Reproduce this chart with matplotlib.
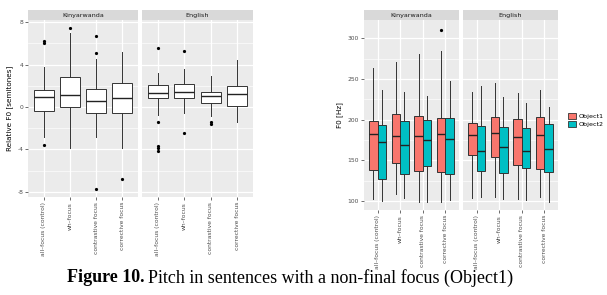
import matplotlib
matplotlib.use('Agg')
import matplotlib.pyplot as plt
from matplotlib.patches import Patch

# categories and facets
cats = ['all\u2013focus (control)', 'wh\u2013focus', 'contrastive focus', 'corrective focus']
langs = ['Kinyarwanda', 'English']

# left chart: relative F0 (semitones), one box per category
# (q1, median, q3, whisker low, whisker high)
rel_kin = [(-0.4, 0.9, 1.6, -2.8, 3.8),
           (0.0, 1.1, 2.8, -3.9, 7.0),
           (-0.55, 0.55, 1.7, -2.8, 4.5),
           (-0.55, 0.8, 2.3, -3.9, 5.2)]
rel_kin_out = [[6.2, 6.0, -3.6], [7.4], [5.1, 6.7, -7.7], [-6.8]]
rel_eng = [(0.85, 1.3, 2.1, -0.75, 3.2),
           (0.8, 1.4, 2.2, -0.6, 3.6),
           (0.35, 1.05, 1.45, -0.9, 2.9),
           (0.05, 1.2, 2.0, -1.4, 4.4)]
rel_eng_out = [[5.6, -1.4, -3.7, -3.9, -4.2], [5.3, -2.5], [-1.4, -1.6], []]

# right chart: F0 (Hz), Object1 and Object2 per category
f0_kin_obj1 = [(138, 182, 198, 103, 264),
               (147, 180, 207, 109, 271),
               (137, 179.5, 204.5, 99, 281),
               (135.5, 183, 202.5, 99, 285)]
f0_kin_obj1_out = [[], [], [], [310.5]]
f0_kin_obj2 = [(127.5, 172.5, 194, 100, 237),
               (133.5, 168.5, 198, 103.5, 233.5),
               (142.5, 175.5, 199, 99, 228.5),
               (133.5, 176.5, 202.5, 101.5, 248)]
f0_eng_obj1 = [(156, 181, 196.5, 103.5, 234),
               (154, 184, 203, 105.5, 245.5),
               (144.5, 178.5, 200.5, 103, 233),
               (140, 181.5, 203, 105, 237)]
f0_eng_obj2 = [(137, 162, 192, 105, 241),
               (135, 167, 190.5, 103, 228),
               (140.5, 161, 190, 101.5, 221),
               (135.5, 163.5, 195, 99, 215)]

series_names = ['Object1', 'Object2']
series_colors = ['#F8766D', '#00BFC4']

W, H = 607, 295
fig = plt.figure(figsize=(W / 100, H / 100), dpi=100)
fig.patch.set_facecolor('white')


def px_axes(x0, y0, x1, y1):
    # rectangle given in pixels from the top-left corner
    return fig.add_axes([x0 / W, 1 - y1 / H, (x1 - x0) / W, (y1 - y0) / H])


def stats(rows, outs=None):
    res = []
    for i, (q1, med, q3, lo, hi) in enumerate(rows):
        res.append(dict(q1=q1, med=med, q3=q3, whislo=lo, whishi=hi,
                        fliers=(outs[i] if outs else [])))
    return res


def style_panel(ax, ylim, major, minor, show_y, fs=4.3):
    ax.set_facecolor('#EBEBEB')
    ax.set_ylim(*ylim)
    ax.set_xlim(0.4, 4.6)
    ax.set_yticks(major)
    ax.set_yticks(minor, minor=True)
    ax.set_xticks(range(1, 5))
    ax.set_xticklabels(cats, rotation=90, fontsize=fs, color='#4D4D4D')
    ax.grid(True, which='major', color='white', lw=0.9)
    ax.grid(True, which='minor', axis='y', color='white', lw=0.45)
    ax.set_axisbelow(True)
    for s in ax.spines.values():
        s.set_visible(False)
    ax.tick_params(which='major', length=2, width=0.5, color='#333333',
                   labelsize=fs, labelcolor='#4D4D4D', pad=1.5)
    ax.tick_params(which='minor', length=0)
    if not show_y:
        ax.tick_params(axis='y', length=0, labelleft=False)


def strip(x0, x1, y0, y1, label):
    sa = px_axes(x0, y0, x1, y1)
    sa.set_facecolor('#D9D9D9')
    sa.set_xticks([])
    sa.set_yticks([])
    for s in sa.spines.values():
        s.set_visible(False)
    sa.text(0.5, 0.5, label, ha='center', va='center', fontsize=4.6, color='#1A1A1A')


flier = dict(marker='o', markersize=1.3, markerfacecolor='black', markeredgecolor='black')

# ---- left chart
left_panels = [(28, 138), (142, 253)]
for k, (x0, x1) in enumerate(left_panels):
    ax = px_axes(x0, 20, x1, 197)
    rows = [rel_kin, rel_eng][k]
    outs = [rel_kin_out, rel_eng_out][k]
    ax.bxp(stats(rows, outs), positions=range(1, 5), widths=0.75, patch_artist=True,
           boxprops=dict(facecolor='white', edgecolor='#333333', lw=0.7),
           medianprops=dict(color='#222222', lw=1.0),
           whiskerprops=dict(color='#333333', lw=0.7),
           capprops=dict(lw=0), flierprops=flier)
    style_panel(ax, (-8.5, 8.2), [-8, -4, 0, 4, 8], [-6, -2, 2, 6], k == 0)
    if k == 0:
        ax.set_yticklabels(['-8', '-4', '0', '4', '8'])
        ax.set_ylabel('Relative F0 [semitones]', fontsize=5.2, color='black', labelpad=3)
    strip(x0, x1, 10, 20, langs[k])

# ---- right chart
right_panels = [(364, 459), (463, 558)]
right_data = [(f0_kin_obj1, f0_kin_obj1_out, f0_kin_obj2),
              (f0_eng_obj1, [[], [], [], []], f0_eng_obj2)]
d = 0.19
for k, (x0, x1) in enumerate(right_panels):
    ax = px_axes(x0, 20, x1, 210)
    o1, o1_out, o2 = right_data[k]
    for j, (rows, outs) in enumerate([(o1, o1_out), (o2, None)]):
        pos = [i + (-d if j == 0 else d) for i in range(1, 5)]
        ax.bxp(stats(rows, outs), positions=pos, widths=0.38, patch_artist=True,
               manage_ticks=False,
               boxprops=dict(facecolor=series_colors[j], edgecolor='#333333', lw=0.7),
               medianprops=dict(color='#222222', lw=1.0),
               whiskerprops=dict(color='#333333', lw=0.7),
               capprops=dict(lw=0), flierprops=flier)
    style_panel(ax, (89, 322.5), [100, 150, 200, 250, 300], [125, 175, 225, 275], k == 0)
    if k == 0:
        ax.set_ylabel('F0 [Hz]', fontsize=5.2, color='black', labelpad=3)
    strip(x0, x1, 10, 20, langs[k])

# legend
handles = [Patch(facecolor=c, edgecolor='#333333', lw=0.6, label=n)
           for n, c in zip(series_names, series_colors)]
fig.legend(handles=handles, loc='center left', bbox_to_anchor=(565 / W, 1 - 120 / H),
           frameon=False, fontsize=4.6, handlelength=1.2, handleheight=1.0,
           handletextpad=0.4, labelspacing=0.3, borderpad=0)

# caption with bold lead
fig.canvas.draw()
r = fig.canvas.get_renderer()
t1 = fig.text(67 / W, 1 - 278 / H, 'Figure 10.', fontsize=13, fontweight='bold',
              family='Liberation Serif', va='center', ha='left')
bb = t1.get_window_extent(renderer=r)
fig.text((bb.x1 + 4) / W, 1 - 278 / H, 'Pitch in sentences with a non-final focus (Object1)',
         fontsize=13, family='Liberation Serif', va='center', ha='left')

fig.savefig('out.png', dpi=100)
